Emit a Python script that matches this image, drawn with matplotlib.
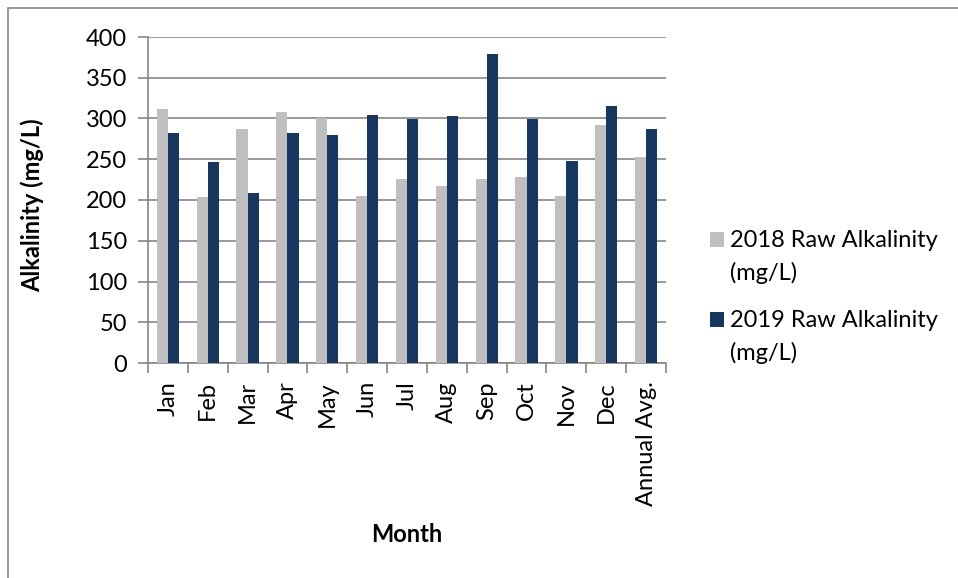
import matplotlib
matplotlib.use("Agg")
import matplotlib.pyplot as plt
import numpy as np
from matplotlib.patches import Rectangle

plt.rcParams['font.family'] = ['Lato', 'DejaVu Sans']

months = ["Jan", "Feb", "Mar", "Apr", "May", "Jun", "Jul", "Aug", "Sep",
          "Oct", "Nov", "Dec", "Annual Avg."]
alk_2018 = [312, 204, 287, 308, 300, 205, 226, 217, 226, 228, 205, 292, 253]
alk_2019 = [282, 247, 209, 282, 280, 304, 299, 303, 379, 299, 248, 315, 287]
series_names = ["2018 Raw Alkalinity\n(mg/L)", "2019 Raw Alkalinity\n(mg/L)"]
yticks = [0, 50, 100, 150, 200, 250, 300, 350, 400]

GRAY = "#BFBFBF"
NAVY = "#17375E"
AXIS = "#868686"
FS = 17

fig = plt.figure(figsize=(9.58, 5.78), dpi=100)
ax = fig.add_axes([148/958, 1-363/578, (666-148)/958, (363-37)/578])

x = np.arange(len(months))
w = 0.28
bars = [
    ax.bar(x - w/2, alk_2018, width=w, color=GRAY, zorder=3),
    ax.bar(x + w/2, alk_2019, width=w, color=NAVY, zorder=3),
]

ax.set_xlim(-0.5, len(months) - 0.5)
ax.set_ylim(0, 400)
ax.set_yticks(yticks)
ax.yaxis.grid(True, color=AXIS, linewidth=1.2, zorder=0)
ax.set_axisbelow(True)

# labels at category centres, tick marks between categories
ax.set_xticks(x)
ax.set_xticklabels(months, rotation=90, fontsize=FS)
ax.set_xticks(np.arange(len(months) + 1) - 0.5, minor=True)
ax.tick_params(axis='x', which='major', length=0, pad=13)
ax.tick_params(axis='x', which='minor', length=7, width=1.2, color=AXIS)
ax.tick_params(axis='y', length=7, width=1.2, color=AXIS, labelsize=FS, pad=8)

for s in ("top", "right"):
    ax.spines[s].set_visible(False)
for s in ("left", "bottom"):
    ax.spines[s].set_color(AXIS)
    ax.spines[s].set_linewidth(1.2)

ax.set_ylabel("Alkalinity (mg/L)", fontsize=FS, fontweight="bold")
ax.yaxis.set_label_coords((44 - 148) / (666 - 148), (363 - 205) / (363 - 37))
fig.text(407/958, 1-535/578, "Month", fontsize=FS, fontweight="bold",
         ha="center", va="center")

# legend: swatch beside the first line of each two-line entry
legend_tops = [232, 312]
for bc, name, top in zip(bars, series_names, legend_tops):
    color = bc.patches[0].get_facecolor()
    fig.patches.append(Rectangle((710/958, 1 - (top + 15)/578), 14/958, 15/578,
                                 transform=fig.transFigure, facecolor=color,
                                 edgecolor="none"))
    fig.text(730/958, 1 - (top - 2)/578, name, fontsize=FS, ha="left",
             va="top", linespacing=1.6)

# chart area border
fig.patches.append(Rectangle((8/958, -0.1), 1.2, 1 - 8/578 + 0.1,
                             transform=fig.transFigure, fill=False,
                             edgecolor=AXIS, linewidth=1.2))

fig.savefig("out.png", dpi=100)
